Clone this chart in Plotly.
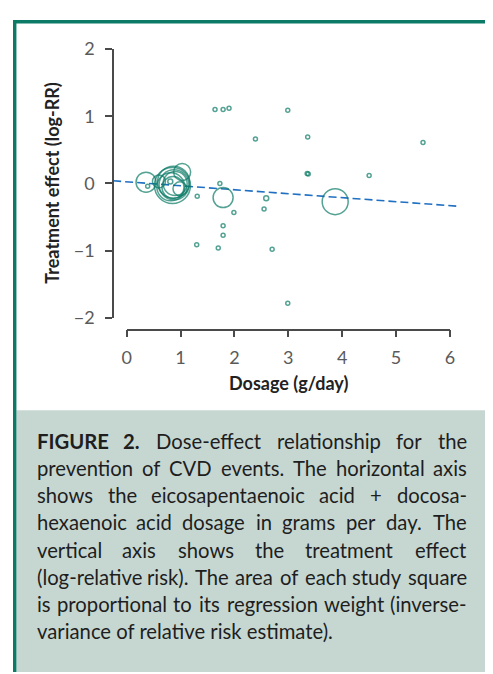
import glob
import os
import struct
import subprocess
import plotly.graph_objects as go

W, H = 493, 674
OFF = 8  # the page body margin shifts the figure by 8 px

# ---------------- data ----------------
dose = [1.64, 1.79, 1.90, 2.99, 2.39, 3.36, 3.35, 3.37, 4.50, 5.50,
        1.73, 1.31, 2.59, 1.99, 2.55, 1.79, 1.79, 1.30, 1.70, 2.70,
        2.99, 0.39, 0.81,
        3.87, 1.79, 0.36,
        0.85, 0.87, 0.82, 0.90, 0.86, 0.88, 1.03, 0.60, 0.99]
effect = [1.10, 1.10, 1.12, 1.09, 0.66, 0.69, 0.15, 0.14, 0.12, 0.61,
          0.00, -0.19, -0.22, -0.43, -0.38, -0.63, -0.77, -0.91, -0.96, -0.98,
          -1.78, -0.04, 0.03,
          -0.27, -0.21, 0.02,
          -0.03, 0.02, -0.05, 0.00, -0.06, -0.02, 0.17, 0.03, -0.08]
weight_size = [4, 4, 4, 4, 4, 4, 4, 4, 4, 4,
               4, 4, 5, 4, 4, 4, 4, 4, 4, 4,
               4, 4, 5,
               26, 20, 20,
               36, 32, 28, 24, 22, 30, 17, 13, 14]

fit_x = [-0.25, 6.18]
fit_y = [0.04, -0.34]

x_ticks = [0, 1, 2, 3, 4, 5, 6]
x_ticklabels = ["0", "1", "2", "3", "4", "5", "6"]
y_ticks = [-2, -1, 0, 1, 2]
y_ticklabels = ["\u22122", "\u22121", "0", "1", "2"]

caption_lines = [
    "FIGURE 2. Dose-effect relationship for the",
    "prevention of CVD events. The horizontal axis",
    "shows the eicosapentaenoic acid + docosa-",
    "hexaenoic acid dosage in grams per day. The",
    "vertical axis shows the treatment effect",
    "(log-relative risk). The area of each study square",
    "is proportional to its regression weight (inverse-",
    "variance of relative risk estimate).",
]
caption_bold_words = 2   # "FIGURE 2." on the first line

# ---------------- layout helpers (screen pixels -> paper) ----------------
def px(x):
    return (x - OFF) / W

def py(y):
    return 1 - (y - OFF) / H

TEAL = "#0b7a67"
AXC = "#4a4a4a"
FONT = "Lato, Open Sans, sans-serif"
TICKFONT = dict(family=FONT, size=18, color="#5a5a5a")

X0PX, XPU = 124.0, 55.0     # screen pixel of x=0, pixels per unit
Y0PX, YPU = 177.0, 69.5     # screen pixel of y=0, pixels per unit

dx0, dx1 = 110, 464
dy0, dy1 = 30, 330

fig = go.Figure()

fig.add_trace(go.Scatter(
    x=fit_x, y=fit_y, mode="lines",
    line=dict(color="#1f6fc2", width=1.6, dash="8px,4px"),
    hoverinfo="skip", showlegend=False))

fig.add_trace(go.Scatter(
    x=dose, y=effect, mode="markers",
    marker=dict(symbol="circle-open", size=weight_size, color=TEAL,
                line=dict(width=1.5, color=TEAL)),
    showlegend=False))

# empty trace to materialise the display axes
fig.add_trace(go.Scatter(x=[], y=[], xaxis="x2", yaxis="y2", showlegend=False))

hidden = dict(showgrid=False, zeroline=False, showticklabels=False,
              showline=False, ticks="")

fig.update_layout(
    width=W, height=H, autosize=False,
    margin=dict(l=0, r=0, t=0, b=0),
    paper_bgcolor="white", plot_bgcolor="rgba(0,0,0,0)",
    xaxis=dict(domain=[px(dx0), px(dx1)],
               range=[(dx0 - X0PX) / XPU, (dx1 - X0PX) / XPU], **hidden),
    yaxis=dict(domain=[py(dy1), py(dy0)],
               range=[(Y0PX - dy1) / YPU, (Y0PX - dy0) / YPU], **hidden),
    xaxis2=dict(domain=[px(X0PX), px(X0PX + 6 * XPU)], range=[0, 6],
                anchor="free", position=py(328),
                showgrid=False, zeroline=False, showline=True,
                linecolor=AXC, linewidth=1.5, ticks="outside",
                ticklen=7, tickwidth=1.5, tickcolor=AXC,
                tickvals=x_ticks, ticktext=x_ticklabels,
                tickfont=TICKFONT, ticklabelstandoff=5),
    yaxis2=dict(domain=[py(Y0PX + 2 * YPU), py(Y0PX - 2 * YPU)],
                range=[-2, 2], anchor="free", position=px(110),
                showgrid=False, zeroline=False, showline=True,
                linecolor=AXC, linewidth=1.5, ticks="outside",
                ticklen=7, tickwidth=1.5, tickcolor=AXC,
                tickvals=y_ticks, ticktext=y_ticklabels,
                tickfont=TICKFONT, ticklabelstandoff=7),
)

shapes = [
    # caption background
    dict(type="rect", xref="paper", yref="paper", x0=px(11.5), x1=1,
         y0=0, y1=py(411.5), fillcolor="#c6d7d2", line_width=0,
         layer="below"),
    # frame: top and left teal bars
    dict(type="rect", xref="paper", yref="paper", x0=0, x1=1,
         y0=py(11.6), y1=1, fillcolor=TEAL, line_width=0),
    dict(type="rect", xref="paper", yref="paper", x0=0, x1=px(11.5),
         y0=0, y1=1, fillcolor=TEAL, line_width=0),
]
fig.update_layout(shapes=shapes)

TITLEFONT = dict(family=FONT, size=18, color="#222222")
ann = [
    dict(text="<b>Dosage (g/day)</b>", xref="paper", yref="paper",
         x=px(289), y=py(383), showarrow=False, font=TITLEFONT,
         xanchor="center", yanchor="middle"),
    dict(text="<b>Treatment effect (log-RR)</b>", xref="paper", yref="paper",
         x=px(48), y=py(177), showarrow=False, font=TITLEFONT, textangle=-90,
         xanchor="center", yanchor="middle"),
]


# ---- text measuring from the installed font files (for justification) ----
def ttf_width_fn(path):
    data = open(path, "rb").read()
    ntab = struct.unpack(">H", data[4:6])[0]
    tabs = {}
    for i in range(ntab):
        tag, _cs, off, ln = struct.unpack(">4sLLL", data[12 + 16 * i:28 + 16 * i])
        tabs[tag.decode("latin1")] = off
    upem = struct.unpack(">H", data[tabs["head"] + 18:tabs["head"] + 20])[0]
    nhm = struct.unpack(">H", data[tabs["hhea"] + 34:tabs["hhea"] + 36])[0]
    ho = tabs["hmtx"]
    adv = [struct.unpack(">H", data[ho + 4 * i:ho + 4 * i + 2])[0] for i in range(nhm)]
    co = tabs["cmap"]
    nsub = struct.unpack(">H", data[co + 2:co + 4])[0]
    sub = None
    for i in range(nsub):
        pid, _eid, so = struct.unpack(">HHL", data[co + 4 + 8 * i:co + 12 + 8 * i])
        fmt = struct.unpack(">H", data[co + so:co + so + 2])[0]
        if fmt == 4 and pid in (0, 3):
            sub = co + so
            break
    if sub is None:
        raise ValueError("no cmap format 4")
    segx2 = struct.unpack(">H", data[sub + 6:sub + 8])[0]
    seg = segx2 // 2
    ends = struct.unpack(">%dH" % seg, data[sub + 14:sub + 14 + segx2])
    starts = struct.unpack(">%dH" % seg, data[sub + 16 + segx2:sub + 16 + 2 * segx2])
    deltas = struct.unpack(">%dh" % seg, data[sub + 16 + 2 * segx2:sub + 16 + 3 * segx2])
    rpos = sub + 16 + 3 * segx2
    roffs = struct.unpack(">%dH" % seg, data[rpos:rpos + segx2])

    def gid(c):
        for i in range(seg):
            if starts[i] <= c <= ends[i]:
                if roffs[i] == 0:
                    return (c + deltas[i]) & 0xFFFF
                addr = rpos + 2 * i + roffs[i] + 2 * (c - starts[i])
                g = struct.unpack(">H", data[addr:addr + 2])[0]
                return (g + deltas[i]) & 0xFFFF if g else 0
        return 0

    def width(text):
        tot = 0
        for ch in text:
            g = gid(ord(ch))
            tot += adv[g] if g < nhm else adv[-1]
        return tot / upem

    return width


def find_font(style, names):
    candidates = []
    try:
        r = subprocess.run(["fc-match", "-f", "%{file}", "Lato:style=" + style],
                           capture_output=True, text=True, timeout=10)
        if r.stdout.strip():
            candidates.append(r.stdout.strip())
    except Exception:
        pass
    for name in names:
        for root in ["/usr/share/fonts", "/usr/local/share/fonts"]:
            candidates += glob.glob(os.path.join(root, "**", name), recursive=True)
    for path in candidates:
        try:
            return ttf_width_fn(path)
        except Exception:
            pass
    return None


EM = {'i': .23, 'l': .23, 'j': .23, 't': .33, 'f': .31, 'r': .35, 's': .40,
      'c': .46, 'e': .50, 'a': .49, 'o': .55, 'n': .54, 'h': .54, 'u': .54,
      'd': .55, 'p': .55, 'q': .55, 'b': .55, 'g': .50, 'v': .50, 'x': .48,
      'y': .50, 'k': .49, 'w': .76, 'm': .81, 'z': .44, '.': .22, ',': .22,
      '-': .32, '(': .30, ')': .30, '+': .58, 'C': .64, 'V': .67, 'D': .72,
      'T': .56, 'F': .52, 'I': .28, 'G': .70, 'U': .70, 'R': .60, 'E': .53,
      '2': .58, ' ': .19}


def table_width(text):
    return 1.08 * sum(EM.get(ch, .52) for ch in text)


reg_w = find_font("Regular", ["Lato-Regular.ttf"]) or table_width
bold_w = find_font("Bold", ["Lato-Bold.ttf"]) or (lambda t: 1.06 * table_width(t))

LEFT, RIGHT = 32.3, 471.3
LINE0, LINESTEP = 442.7, 28.2

split_lines = []
for i, line in enumerate(caption_lines):
    words = line.split(" ")
    bolds = [(i == 0 and k < caption_bold_words) for k in range(len(words))]
    split_lines.append((words, bolds))


def word_em(w, b):
    return bold_w(w) if b else reg_w(w)


# largest size (<= 21px) at which every justified line keeps clear word gaps
CAPSIZE = 21.0
while CAPSIZE > 14:
    ok = True
    for words, bolds in split_lines[:-1]:
        tot = sum(word_em(w, b) for w, b in zip(words, bolds)) * CAPSIZE
        gap = (RIGHT - LEFT - tot) / (len(words) - 1)
        if gap < 0.33 * CAPSIZE:
            ok = False
            break
    if ok:
        break
    CAPSIZE -= 0.25

CAPFONT = dict(family=FONT, size=CAPSIZE, color="#1e1e1e")
NOPAD = dict(borderpad=0, borderwidth=0)

for i, (words, bolds) in enumerate(split_lines):
    yy = py(LINE0 + i * LINESTEP)
    if i == len(split_lines) - 1:
        ann.append(dict(text=caption_lines[i], xref="paper", yref="paper",
                        x=px(LEFT), y=yy, showarrow=False, font=CAPFONT,
                        xanchor="left", yanchor="middle", **NOPAD))
        continue
    widths = [word_em(w, b) * CAPSIZE for w, b in zip(words, bolds)]
    gap = (RIGHT - LEFT - sum(widths)) / (len(words) - 1)
    cur = LEFT
    for k, (w, b, wd) in enumerate(zip(words, bolds, widths)):
        txt = f"<b>{w}</b>" if b else w
        if k == 0:
            xa, xpos = "left", LEFT
        elif k == len(words) - 1:
            xa, xpos = "right", RIGHT
        else:
            xa, xpos = "center", cur + wd / 2
        ann.append(dict(text=txt, xref="paper", yref="paper", x=px(xpos), y=yy,
                        showarrow=False, font=CAPFONT, xanchor=xa,
                        yanchor="middle", **NOPAD))
        cur += wd + gap

fig.update_layout(annotations=ann)

fig.write_html("out.html")
